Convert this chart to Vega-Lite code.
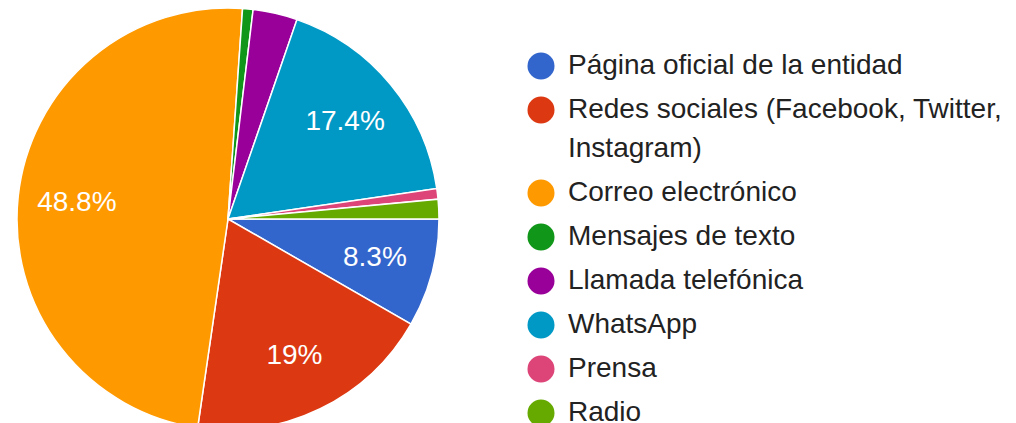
{
  "$schema": "https://vega.github.io/schema/vega-lite/v6.json",
  "width": 456,
  "height": 438,
  "padding": 0,
  "background": "white",
  "data": {
    "values": [
      {"canal": "Página oficial de la entidad", "pct": 0.083, "orden": 1},
      {"canal": "Redes sociales (Facebook, Twitter, Instagram)", "pct": 0.19, "orden": 2},
      {"canal": "Correo electrónico", "pct": 0.488, "orden": 3},
      {"canal": "Mensajes de texto", "pct": 0.008, "orden": 4},
      {"canal": "Llamada telefónica", "pct": 0.034, "orden": 5},
      {"canal": "WhatsApp", "pct": 0.174, "orden": 6},
      {"canal": "Prensa", "pct": 0.008, "orden": 7},
      {"canal": "Radio", "pct": 0.015, "orden": 8}
    ]
  },
  "encoding": {
    "theta": {"field": "pct", "type": "quantitative", "stack": true, "scale": {"range": [1.5707963, 7.8539816]}},
    "order": {"field": "orden", "type": "quantitative"},
    "color": {
      "field": "canal",
      "type": "nominal",
      "sort": {"field": "orden"},
      "scale": {"range": ["#3366cc", "#dc3912", "#ff9900", "#109618", "#990099", "#0099c6", "#dd4477", "#66aa00"]},
      "legend": {
        "orient": "none",
        "legendX": 527,
        "legendY": 52,
        "title": null,
        "padding": 0,
        "symbolType": "circle",
        "symbolSize": 730,
        "symbolStrokeWidth": 0,
        "labelFont": "Liberation Sans",
        "labelFontSize": 28,
        "labelColor": "#222222",
        "labelOffset": 13,
        "labelLimit": 1000,
        "rowPadding": 16,
        "labelExpr": "datum.label == 'Redes sociales (Facebook, Twitter, Instagram)' ? ['Redes sociales (Facebook, Twitter,', 'Instagram)'] : datum.label"
      }
    }
  },
  "layer": [
    {
      "mark": {"type": "arc", "outerRadius": 211, "stroke": "white", "strokeWidth": 1.5}
    },
    {
      "mark": {"type": "text", "radius": 152, "font": "Liberation Sans", "fontSize": 28, "align": "center", "baseline": "middle"},
      "encoding": {
        "color": {"value": "white"},
        "text": {
          "condition": {"test": "datum.pct >= 0.05", "field": "pct", "type": "quantitative", "format": ".1~%"},
          "value": ""
        }
      }
    }
  ],
  "config": {
    "view": {"stroke": null},
    "style": {"guide-label": {"lineHeight": 39}}
  }
}
